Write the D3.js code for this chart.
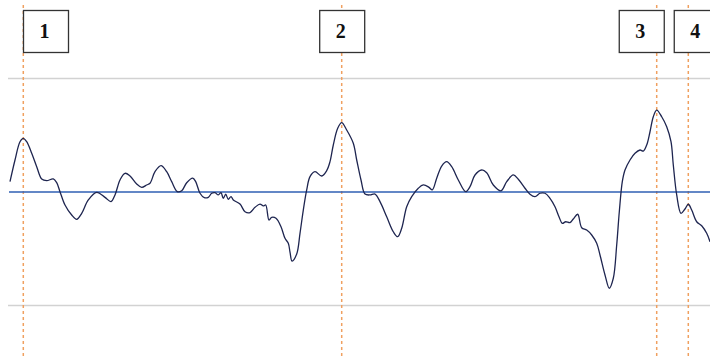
<!DOCTYPE html>
<html>
<head>
<meta charset="utf-8">
<script src="https://cdn.jsdelivr.net/npm/d3@7"></script>
<style>
  html, body { margin: 0; padding: 0; background: #fff; }
  svg { display: block; }
</style>
</head>
<body>
<div id="chart"></div>
<script>
// ---- data (time in arbitrary units, signal amplitude normalised) ----
const times = [
  0, 0.5, 1.0, 1.33, 1.67, 2.17, 2.67, 3.17, 3.67, 4.33, 4.67, 5.0, 5.5, 6.17, 6.67, 7.17, 7.83,
  8.67, 9.5, 10.1, 10.5, 11.0, 11.5, 12.0, 12.67, 13.17, 13.67, 14.0, 14.5, 15.1, 15.67, 16.17,
  16.73, 17.17, 17.67, 18.27, 18.57, 19.0, 19.43, 19.83, 20.17, 20.5, 20.83, 21.1, 21.33, 21.57,
  21.83, 22.1, 22.33, 23.0, 23.5, 24.0, 24.5, 25.0, 25.33, 25.57, 25.9, 26.17, 26.6, 27.1, 27.5,
  27.83, 28.0, 28.2, 28.67, 29.0, 29.33, 29.67, 30.0, 30.5, 31.17, 31.67, 32.0, 32.33, 32.77,
  33.17, 33.67, 34.33, 34.67, 35.1, 35.5, 36.0, 36.5, 37.0, 37.67, 38.33, 38.77, 39.17, 39.67,
  40.17, 40.83, 41.33, 41.9, 42.23, 42.67, 43.17, 43.67, 44.17, 44.83, 45.57, 46.0, 46.5, 47.17,
  47.67, 48.33, 49.1, 49.67, 50.33, 50.83, 51.5, 52.0, 52.5, 53.0, 53.5, 54.0, 54.5, 54.9,
  55.23, 55.57, 56.0, 56.33, 56.77, 57.17, 57.67, 58.17, 58.67, 59.0, 59.5, 59.93, 60.33, 60.67,
  60.93, 61.23, 61.5, 62.0, 62.5, 63.0, 63.33, 63.67, 64.0, 64.33, 64.67, 65.17, 65.67, 66.1,
  66.33, 66.67, 67.1, 67.5, 67.83, 68.17, 68.67, 69.17, 69.67, 70.0
];
const signal = [
  0.091, 0.282, 0.443, 0.473, 0.443, 0.341, 0.223, 0.115, 0.100, 0.115, 0.082, 0.003, -0.115,
  -0.203, -0.241, -0.188, -0.070, -0.003, -0.047, -0.085, -0.026, 0.106, 0.165, 0.141, 0.070,
  0.041, 0.062, 0.077, 0.179, 0.232, 0.179, 0.091, 0.003, 0.011, 0.082, 0.123, 0.091, -0.011,
  -0.050, -0.047, -0.011, -0.006, -0.026, -0.006, -0.056, -0.020, -0.064, -0.041, -0.070,
  -0.106, -0.174, -0.182, -0.135, -0.106, -0.123, -0.115, -0.247, -0.223, -0.232, -0.306,
  -0.408, -0.452, -0.529, -0.608, -0.546, -0.364, -0.159, 0.018, 0.135, 0.179, 0.141, 0.188,
  0.267, 0.414, 0.561, 0.611, 0.546, 0.429, 0.282, 0.106, -0.018, -0.026, -0.018, -0.085,
  -0.218, -0.350, -0.394, -0.320, -0.130, -0.041, 0.033, 0.062, 0.041, 0.018, 0.121, 0.229,
  0.267, 0.223, 0.106, 0.003, 0.047, 0.150, 0.194, 0.170, 0.062, 0.011, 0.091, 0.150, 0.112,
  0.033, -0.020, -0.041, -0.011, -0.011, -0.056, -0.130, -0.218, -0.276, -0.262, -0.270,
  -0.238, -0.196, -0.315, -0.335, -0.379, -0.452, -0.555, -0.731, -0.848, -0.760, -0.467,
  -0.174, 0.091, 0.194, 0.282, 0.341, 0.370, 0.361, 0.414, 0.531, 0.663, 0.722, 0.663, 0.575,
  0.443, 0.238, -0.026, -0.188, -0.150, -0.108, -0.159, -0.262, -0.297, -0.364, -0.438
];
const markerTimes = [1.33, 33.17, 64.67, 67.83];
const markerLabels = ["1", "2", "3", "4"];
const gridValues = [-1, 1];
const zeroValue = [0];

// ---- layout ----
const W = 710, H = 358;
const svg = d3.select("#chart").append("svg").attr("width", W).attr("height", H);

const x = d3.scaleLinear().domain([0, 70]).range([10, 710]);
const y = d3.scaleLinear().domain([-1, 1]).range([305.5, 78.5]);

// grid lines
svg.append("g").selectAll("line").data(gridValues).join("line")
  .attr("x1", 8).attr("x2", W)
  .attr("y1", d => y(d)).attr("y2", d => y(d))
  .attr("stroke", "#d2d2d2").attr("stroke-width", 1.5);

// marker vertical dashed lines
svg.append("g").selectAll("line").data(markerTimes).join("line")
  .attr("x1", d => x(d)).attr("x2", d => x(d))
  .attr("y1", 5).attr("y2", H)
  .attr("stroke", "#f0a060").attr("stroke-width", 1.5)
  .attr("stroke-dasharray", "3,3");

// zero line
svg.append("g").selectAll("line").data(zeroValue).join("line")
  .attr("x1", 9).attr("x2", W)
  .attr("y1", d => y(d)).attr("y2", d => y(d))
  .attr("stroke", "#2f5fb3").attr("stroke-width", 1.5);

// signal
const pts = times.map((t, i) => [t, signal[i]]);
const line = d3.line().x(d => x(d[0])).y(d => y(d[1])).curve(d3.curveCatmullRom.alpha(0.5));
svg.append("path").datum(pts)
  .attr("d", line)
  .attr("fill", "none")
  .attr("stroke", "#1e2550")
  .attr("stroke-width", 1.3)
  .attr("stroke-linejoin", "round");

// label boxes: centred on the marker, kept inside the left margin, pushed apart when they collide
const bw = 45, bh = 42, gap = 10, minLeft = 23;
const boxes = markerTimes.map((t, i) => ({ label: markerLabels[i], cx: x(t), left: Math.max(minLeft, x(t) - bw / 2) }));
for (let i = 1; i < boxes.length; i++) {
  const a = boxes[i - 1], b = boxes[i];
  const overlap = a.left + bw + gap - b.left;
  if (overlap > 0) {
    a.left -= overlap * 0.66;
    b.left += overlap * 0.34;
  }
}
const bg = svg.append("g").selectAll("g").data(boxes).join("g")
  .attr("transform", d => `translate(${d.left},10)`);
bg.append("rect")
  .attr("x", 0.5).attr("y", 0.5).attr("width", bw).attr("height", bh)
  .attr("fill", "#fff").attr("stroke", "#333").attr("stroke-width", 1.3);
bg.append("text")
  .attr("x", bw / 2 - 1).attr("y", bh / 2 + 7)
  .attr("text-anchor", "middle")
  .attr("font-family", "'Liberation Serif', 'Times New Roman', serif")
  .attr("font-weight", "bold")
  .attr("font-size", 20)
  .attr("fill", "#111")
  .text(d => d.label);
</script>
</body>
</html>
